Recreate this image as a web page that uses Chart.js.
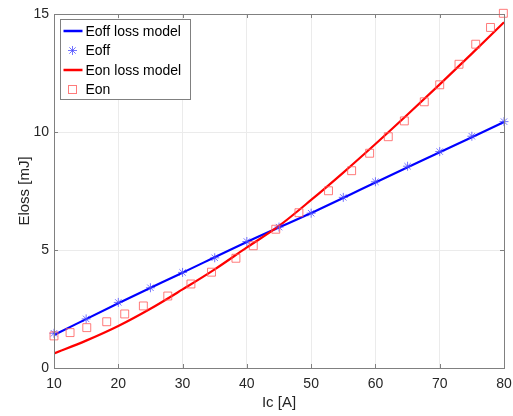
<!DOCTYPE html>
<html>
<head>
<meta charset="utf-8">
<script src="https://cdn.jsdelivr.net/npm/chart.js@4.4.1/dist/chart.umd.min.js"></script>
<style>
  html, body { margin: 0; padding: 0; background: #fff; }
  #wrap { position: relative; width: 513px; height: 416px; }
</style>
</head>
<body>
<div id="wrap"><canvas id="lossChart"></canvas></div>
<script>
// data
const eoffModelX = [10, 20, 30, 40, 50, 60, 70, 80];
const eoffModelY = [1.40, 2.74, 4.04, 5.34, 6.57, 7.86, 9.14, 10.42];

const eoffX = [10, 15, 20, 25, 30, 35, 40, 45, 50, 55, 60, 65, 70, 75, 80];
const eoffY = [1.47, 2.08, 2.78, 3.40, 4.05, 4.67, 5.36, 5.97, 6.56, 7.23, 7.89, 8.55, 9.17, 9.82, 10.44];

const eonModelX = [10, 15, 20, 25, 30, 35, 40, 45, 50, 55, 60, 65, 70, 75, 80];
const eonModelY = [0.62, 1.16, 1.78, 2.51, 3.33, 4.18, 5.11, 6.02, 7.12, 8.28, 9.49, 10.74, 12.02, 13.32, 14.65];

const eonX = [10.0, 12.5, 15.1, 18.2, 21.0, 23.9, 27.7, 31.3, 34.5, 38.3, 41.0, 44.5,
              48.1, 52.7, 56.3, 59.1, 62.0, 64.5, 67.6, 70.0, 73.0, 75.6, 77.9, 79.9];
const eonY = [1.36, 1.50, 1.71, 1.96, 2.29, 2.63, 3.05, 3.56, 4.06, 4.65, 5.18, 5.88,
              6.58, 7.51, 8.36, 9.10, 9.80, 10.47, 11.28, 12.00, 12.87, 13.72, 14.43, 15.03];

const xTicks = [10, 20, 30, 40, 50, 60, 70, 80];
const yTicks = [0, 5, 10, 15];

const FONT = '"Liberation Sans", Arial, Helvetica, sans-serif';
const TEXT = '#262626';
const AXIS = '#808080';

function pts(xs, ys) {
  return xs.map((x, i) => ({ x: x, y: ys[i] }));
}

// star = '+' and 'x' combined like the matlab asterisk
function drawStar(ctx, x, y, r) {
  ctx.beginPath();
  ctx.moveTo(x - r, y); ctx.lineTo(x + r, y);
  ctx.moveTo(x, y - r); ctx.lineTo(x, y + r);
  const d = r * Math.SQRT1_2;
  ctx.moveTo(x - d, y - d); ctx.lineTo(x + d, y + d);
  ctx.moveTo(x - d, y + d); ctx.lineTo(x + d, y - d);
  ctx.stroke();
}

// box around the axes with inward ticks on every side
const framePlugin = {
  id: 'frame',
  afterDatasetsDraw(chart) {
    const { ctx, chartArea: a, scales } = chart;
    ctx.save();
    ctx.strokeStyle = AXIS;
    ctx.lineWidth = 1;
    ctx.strokeRect(Math.round(a.left) + 0.5, Math.round(a.top) + 0.5,
                   Math.round(a.right - a.left), Math.round(a.bottom - a.top));
    const len = 4;
    ctx.beginPath();
    xTicks.forEach(v => {
      const px = Math.round(scales.x.getPixelForValue(v)) + 0.5;
      ctx.moveTo(px, a.bottom); ctx.lineTo(px, a.bottom - len);
      ctx.moveTo(px, a.top); ctx.lineTo(px, a.top + len);
    });
    yTicks.forEach(v => {
      const py = Math.round(scales.y.getPixelForValue(v)) + 0.5;
      ctx.moveTo(a.left, py); ctx.lineTo(a.left + len, py);
      ctx.moveTo(a.right, py); ctx.lineTo(a.right - len, py);
    });
    ctx.stroke();
    ctx.restore();
  }
};

// legend box in the upper left corner of the plot
const boxLegend = {
  id: 'boxLegend',
  afterDraw(chart) {
    const ctx = chart.ctx;
    const a = chart.chartArea;
    const bx = Math.round(a.left) + 6.5, by = Math.round(a.top) + 5.5;
    const bw = 130, bh = 80;
    ctx.save();
    ctx.fillStyle = '#fff';
    ctx.fillRect(bx, by, bw, bh);
    ctx.strokeStyle = AXIS;
    ctx.lineWidth = 1;
    ctx.strokeRect(bx, by, bw, bh);

    ctx.font = '14px ' + FONT;
    ctx.textBaseline = 'middle';
    ctx.textAlign = 'left';
    chart.data.datasets.forEach((ds, i) => {
      const y = by + 11.5 + i * 19.5;
      const sx = bx + 3, ex = bx + 22, mx = bx + 12;
      if (ds.showLine !== false) {
        ctx.strokeStyle = ds.borderColor;
        ctx.lineWidth = 2.5;
        ctx.beginPath(); ctx.moveTo(sx, y); ctx.lineTo(ex, y); ctx.stroke();
      } else if (ds.pointStyle === 'rect') {
        ctx.strokeStyle = ds.borderColor;
        ctx.lineWidth = 1;
        ctx.strokeRect(mx - 4, y - 4, 8, 8);
      } else {
        ctx.strokeStyle = ds.borderColor;
        ctx.lineWidth = 1;
        drawStar(ctx, mx, y, 4.5);
      }
      ctx.fillStyle = '#000';
      ctx.fillText(ds.label, bx + 25, y + 1);
    });
    ctx.restore();
  }
};

const ctx = document.getElementById('lossChart').getContext('2d');
new Chart(ctx, {
  type: 'scatter',
  data: {
    datasets: [
      {
        label: 'Eoff loss model',
        type: 'line',
        data: pts(eoffModelX, eoffModelY),
        borderColor: '#0000ff',
        borderWidth: 2.2,
        pointRadius: 0,
        showLine: true,
        cubicInterpolationMode: 'monotone',
        order: 3
      },
      {
        label: 'Eoff',
        data: pts(eoffX, eoffY),
        showLine: false,
        pointStyle: 'star',
        pointRadius: 4.5,
        borderWidth: 1,
        borderColor: 'rgba(70,70,255,0.75)',
        backgroundColor: 'rgba(0,0,0,0)',
        clip: false,
        order: 1
      },
      {
        label: 'Eon loss model',
        type: 'line',
        data: pts(eonModelX, eonModelY),
        borderColor: '#ff0000',
        borderWidth: 2.2,
        pointRadius: 0,
        showLine: true,
        cubicInterpolationMode: 'monotone',
        order: 2
      },
      {
        label: 'Eon',
        data: pts(eonX, eonY),
        showLine: false,
        pointStyle: 'rect',
        pointRadius: 5.6,
        borderWidth: 1,
        borderColor: 'rgba(255,90,90,0.8)',
        backgroundColor: 'rgba(0,0,0,0)',
        clip: false,
        order: 0
      }
    ]
  },
  options: {
    responsive: true,
    maintainAspectRatio: false,
    animation: false,
    layout: { padding: { top: 14, right: 9, left: 0, bottom: 0 } },
    plugins: {
      legend: { display: false },
      tooltip: { enabled: false }
    },
    scales: {
      x: {
        type: 'linear',
        min: 10,
        max: 80,
        afterBuildTicks: s => { s.ticks = xTicks.map(v => ({ value: v })); },
        afterFit: s => { s.height = 48; s.paddingLeft = 0; s.paddingRight = 0; },
        ticks: { color: TEXT, font: { family: FONT, size: 14 }, padding: 8, maxRotation: 0 },
        grid: { color: '#ebebeb', drawTicks: false },
        border: { color: AXIS },
        title: {
          display: true,
          text: 'Ic [A]',
          color: TEXT,
          font: { family: FONT, size: 15 },
          padding: { top: 2, bottom: 4 }
        }
      },
      y: {
        type: 'linear',
        min: 0,
        max: 15,
        afterBuildTicks: s => { s.ticks = yTicks.map(v => ({ value: v })); },
        afterFit: s => { s.width = 54; s.paddingTop = 0; s.paddingBottom = 0; },
        ticks: { color: TEXT, font: { family: FONT, size: 14 }, padding: 5 },
        grid: { color: '#ebebeb', drawTicks: false },
        border: { color: AXIS },
        title: {
          display: true,
          text: 'Eloss [mJ]',
          color: TEXT,
          font: { family: FONT, size: 15 },
          padding: { top: 16, bottom: 4 }
        }
      }
    }
  },
  plugins: [framePlugin, boxLegend]
});
</script>
</body>
</html>
